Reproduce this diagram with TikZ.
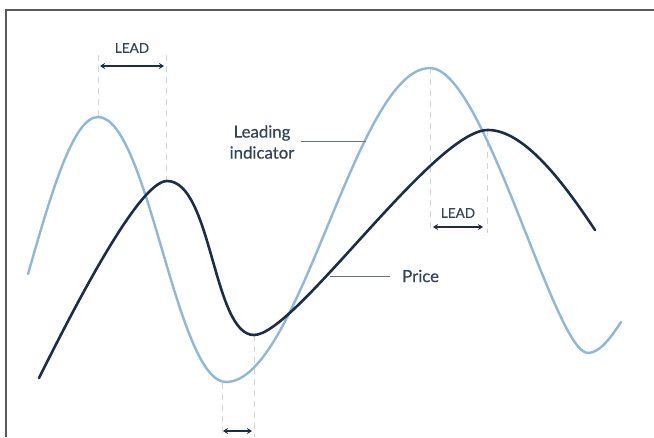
\documentclass[tikz,border=0pt]{standalone}
\usepackage{fontspec}
\setmainfont{Lato}
\newfontfamily\medfont{Lato}[FakeBold=0.3]
\usetikzlibrary{arrows.meta}
\definecolor{lightc}{HTML}{8FB7D7}
\definecolor{darkc}{HTML}{1B2D48}
\definecolor{txtc}{HTML}{34445A}
\definecolor{dashc}{HTML}{D2D5DA}
\definecolor{framec}{HTML}{5A5A5A}
\begin{document}
\begin{tikzpicture}[x=1pt,y=-1pt,
  leadcurve/.style={draw=lightc, line width=2.4pt, line cap=round},
  pricecurve/.style={draw=darkc, line width=2.6pt, line cap=round},
  guide/.style={draw=dashc, line width=0.9pt, dash pattern=on 6pt off 5pt},
  leadarrow/.style={draw=darkc, line width=1.6pt, {Stealth[length=5pt,width=6pt]}-{Stealth[length=5pt,width=6pt]}},
  leader/.style={draw=txtc!75, line width=1pt},
  lbl/.style={text=txtc, font=\medfont\fontsize{16.8}{21}\selectfont, align=center, inner sep=0pt},
  leadlbl/.style={text=txtc, font=\medfont\fontsize{13.5}{15}\selectfont, inner sep=0pt}]
\useasboundingbox (0,0) rectangle (654,437);
\fill[white] (0,0) rectangle (654,437);
% frame
\draw[framec, line width=1.3pt] (6,437) -- (6,10) -- (654,10);

% key points
\coordinate (lp1) at (98,117);
\coordinate (pp1) at (166,181);
\coordinate (lt1) at (222,383);
\coordinate (pt1) at (254,335);
\coordinate (lp2) at (430,68);
\coordinate (pp2) at (487,130);
\coordinate (lp1top) at (98,55);
\coordinate (pp1top) at (166,55);
\coordinate (lt1bot) at (222,437);
\coordinate (pt1bot) at (254,437);
\coordinate (lp2bot) at (430,233);
\coordinate (pp2bot) at (487,233);

% guides
\draw[guide] (lp1top) -- (lp1);
\draw[guide] (pp1top) -- (pp1);
\draw[guide] (lt1) -- (lt1bot);
\draw[guide] (pt1) -- (pt1bot);
\draw[guide] (lp2) -- (lp2bot);
\draw[guide] (pp2) -- (pp2bot);

% leading indicator curve
\draw[leadcurve] (28,274) .. controls (51,194) and (73,117) .. (98,117)
  .. controls (148,117) and (176,382) .. (226,382)
  .. controls (300,382) and (356,68) .. (430,68)
  .. controls (484.5,68) and (554.5,353) .. (588,353)
  .. controls (600,353) and (612,336) .. (621,322);

% price curve
\draw[pricecurve] (39,378) .. controls (74,308) and (139,181) .. (167,181)
  .. controls (212,181) and (213,335) .. (254,335)
  .. controls (295,335) and (434,130) .. (488,130)
  .. controls (525,130) and (565,185) .. (595,230);

% labels
\node[lbl] (li) at (262,142) {Leading\\indicator};
\coordinate (lipt) at (366,141);
\draw[leader] ([xshift=6pt]li.east |- lipt) -- (lipt);

\node[lbl, anchor=west] (pr) at (402,276) {Price};
\coordinate (prpt) at (330,276);
\draw[leader] (prpt) -- ([xshift=-12pt]pr.west);

% lead arrows
\node[leadlbl] (lead1) at (132,48) {LEAD};
\coordinate (a1l) at (100,66);
\coordinate (a1r) at (164,66);
\draw[leadarrow] (a1l) -- (a1r);

\node[leadlbl] (lead2) at (458,213) {LEAD};
\coordinate (a2l) at (433,227);
\coordinate (a2r) at (483,227);
\draw[leadarrow] (a2l) -- (a2r);

\coordinate (a3l) at (223,431);
\coordinate (a3r) at (252,431);
\draw[leadarrow] (a3l) -- (a3r);
\end{tikzpicture}
\end{document}
